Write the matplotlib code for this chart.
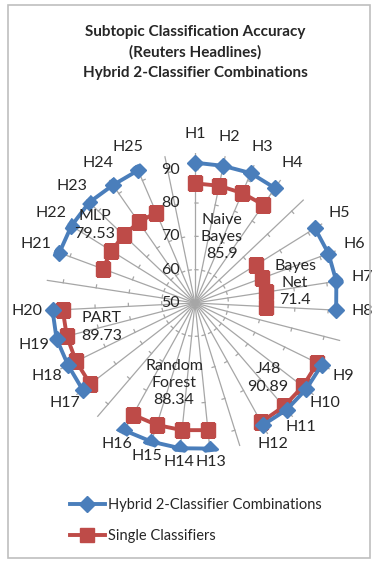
import numpy as np
import matplotlib
matplotlib.use("Agg")
import matplotlib.pyplot as plt
import matplotlib.transforms as mtransforms
from matplotlib.patches import Rectangle

plt.rcParams['font.family'] = ['Lato', 'DejaVu Sans']

# 31 spokes: 25 labelled combinations plus one blank spoke after each group
categories = ['H1', 'H2', 'H3', 'H4', '',
              'H5', 'H6', 'H7', 'H8', '',
              'H9', 'H10', 'H11', 'H12', '',
              'H13', 'H14', 'H15', 'H16', '',
              'H17', 'H18', 'H19', 'H20', '',
              'H21', 'H22', 'H23', 'H24', 'H25', '']
nan = np.nan
hybrid = [92.1, 92.0, 92.4, 92.0, nan,
          92.4, 92.7, 92.9, 92.4, nan,
          92.3, 92.2, 92.2, 91.9, nan,
          93.9, 93.8, 93.6, 93.7, nan,
          92.6, 92.4, 92.9, 92.8, nan,
          93.4, 93.7, 93.8, 93.1, 93.3, nan]
single = [85.9, 85.9, 85.9, 85.9, nan,
          71.4, 71.4, 71.4, 71.4, nan,
          90.89, 90.89, 90.89, 90.89, nan,
          88.34, 88.34, 88.34, 88.34, nan,
          89.73, 89.73, 89.73, 89.73, nan,
          79.53, 79.53, 79.53, 79.53, 79.53, nan]
group_names = ['Naive\nBayes\n85.9', 'Bayes\nNet\n71.4', 'J48\n90.89',
               'Random\nForest\n88.34', 'PART\n89.73', 'MLP\n79.53']
# pixel centres of the group captions
group_pos = [(222, 237), (295, 283), (268, 378), (174, 383), (102, 327), (95, 225)]
r_ticks = [50, 60, 70, 80, 90]
r_min, r_max = 50, 95

W, H = 372, 563
fig = plt.figure(figsize=(W / 100, H / 100), dpi=100)
fig.patches.append(Rectangle((8 / W, 5 / H), 362 / W, 553 / H, transform=fig.transFigure,
                             fill=False, edgecolor='#bfbfbf', linewidth=1.2))

cx, cy, R = 195, 303, 150
ax = fig.add_axes([(cx - R) / W, 1 - (cy + R) / H, 2 * R / W, 2 * R / H], projection='polar')
ax.set_theta_zero_location('N')
ax.set_theta_direction(-1)
ax.set_ylim(r_min, r_max)
ax.patch.set_alpha(0)
ax.spines['polar'].set_visible(False)

n = len(categories)
theta = np.arange(n) * 2 * np.pi / n
ax.set_xticks(theta)
ax.set_xticklabels([])
ax.set_yticks([])
ax.xaxis.grid(True, color='#a6a6a6', linewidth=0.9)
ax.tick_params(axis='x', length=0)

# small tick marks on each spoke
px_per_unit = R / (r_max - r_min)
for t in theta:
    for v in r_ticks[1:]:
        d = 3.0 / ((v - r_min) * px_per_unit)
        ax.plot([t, t + d], [v, v], color='#a6a6a6', linewidth=0.9)

# radial value labels left of the top spoke
off = mtransforms.offset_copy(ax.transData, fig=fig, x=-15, y=0, units='dots')
for v in r_ticks:
    ax.text(0, v, str(v), transform=off, ha='right', va='center', fontsize=11.5,
            color='#262626')

ln1, = ax.plot(theta, hybrid, color='#4a7ebb', linewidth=2.8, marker='D',
               markersize=8, label='Hybrid 2-Classifier Combinations', zorder=4)
ln2, = ax.plot(theta, single, color='#be4b48', linewidth=2.8, marker='s',
               markersize=10, label='Single Classifiers', zorder=3)

# category labels outside the spokes
for t, lab in zip(theta, categories):
    if not lab:
        continue
    rp = 164 + 5 * np.cos(t) + 4 * abs(np.sin(t))
    ax.text(t, r_min + rp / px_per_unit, lab, ha='center', va='center',
            fontsize=11.5, color='#262626', clip_on=False)

for name, (x, y) in zip(group_names, group_pos):
    fig.text(x / W, 1 - y / H, name, ha='center', va='center', fontsize=11.5,
             color='#262626', linespacing=1.3)

fig.text(195 / W, 1 - 32 / H, 'Subtopic Classification Accuracy', ha='center',
         va='center', fontsize=11, fontweight='bold', color='#262626')
fig.text(195 / W, 1 - 52 / H, '(Reuters Headlines)', ha='center',
         va='center', fontsize=11, fontweight='bold', color='#262626')
fig.text(195 / W, 1 - 73 / H, 'Hybrid 2-Classifier Combinations', ha='center',
         va='center', fontsize=11, fontweight='bold', color='#262626')

fig.legend(handles=[ln1, ln2], loc='upper left', bbox_to_anchor=(64 / W, 1 - 492 / H),
           frameon=False, fontsize=10.5, handlelength=2.4, handletextpad=0.2,
           labelspacing=1.2, borderaxespad=0, labelcolor='#262626')

fig.savefig('out.png', dpi=100)
